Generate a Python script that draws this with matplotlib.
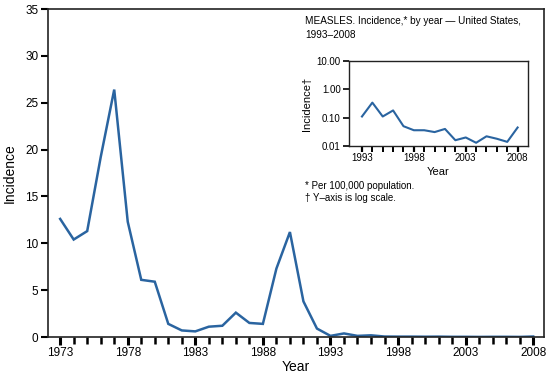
import matplotlib.pyplot as plt
from matplotlib.ticker import FixedLocator, FuncFormatter

plt.rcParams['font.family'] = ['Liberation Sans', 'DejaVu Sans']

# main chart: measles incidence per 100,000, 1973-2008
years = list(range(1973, 2009))
incidence = [12.6, 10.4, 11.3, 19.2, 26.4, 12.3, 6.1, 5.9, 1.4, 0.7, 0.6, 1.1,
             1.2, 2.6, 1.5, 1.4, 7.3, 11.2, 3.8, 0.9, 0.12, 0.38, 0.12, 0.18,
             0.05, 0.04, 0.04, 0.03, 0.04, 0.02, 0.02, 0.01, 0.02, 0.02, 0.01, 0.05]

# inset: same series 1993-2008 on log axis
inset_years = list(range(1993, 2009))
inset_incidence = [0.11, 0.34, 0.11, 0.18, 0.05, 0.036, 0.036, 0.031, 0.04, 0.016,
                   0.02, 0.013, 0.022, 0.018, 0.014, 0.045]

line_color = '#2a64a0'
label_years = [1973, 1978, 1983, 1988, 1993, 1998, 2003, 2008]
inset_label_years = [1993, 1998, 2003, 2008]

fig = plt.figure(figsize=(5.56, 3.75), dpi=100)
ax = fig.add_axes([48 / 556, 38 / 375, 496 / 556, 328 / 375])
ax.plot(years, incidence, color=line_color, lw=1.8, solid_joinstyle='miter')
ax.set_xlim(1972.1, 2008.8)
ax.set_ylim(0, 35)
ax.set_yticks(range(0, 36, 5))
ax.xaxis.set_major_locator(FixedLocator(label_years))
ax.xaxis.set_minor_locator(FixedLocator(years))
ax.tick_params(axis='x', which='major', length=6, width=2.2, labelsize=8.5, pad=1)
ax.tick_params(axis='x', which='minor', length=5, width=1.8)
ax.tick_params(axis='y', length=5, width=1.5, labelsize=8.5, pad=2)
ax.set_xlabel('Year', fontsize=10, labelpad=1)
ax.set_ylabel('Incidence', fontsize=10, labelpad=6)
for s in ax.spines.values():
    s.set_linewidth(1.2)
    s.set_color('#222222')

# inset
fig.text(305 / 556, 1 - 28 / 375, 'MEASLES. Incidence,* by year \u2014 United States,\n1993\u20132008',
         fontsize=7.2, va='center', ha='left', linespacing=1.5)
iax = fig.add_axes([349 / 556, 1 - 146 / 375, 179 / 556, 85 / 375])
iax.plot(inset_years, inset_incidence, color=line_color, lw=1.5)
iax.set_yscale('log')
iax.set_ylim(0.01, 10)
iax.set_xlim(1991.75, 2009)
iax.set_yticks([0.01, 0.1, 1, 10])
iax.yaxis.set_major_formatter(FuncFormatter(lambda v, p: f'{v:.2f}'))
iax.yaxis.set_minor_locator(FixedLocator([]))
iax.xaxis.set_major_locator(FixedLocator(inset_label_years))
iax.xaxis.set_minor_locator(FixedLocator(inset_years))
iax.tick_params(axis='x', which='major', length=4, width=1.6, labelsize=7, pad=1)
iax.tick_params(axis='x', which='minor', length=4, width=1.4)
iax.tick_params(axis='y', length=4, width=1.2, labelsize=7, pad=2)
iax.set_xlabel('Year', fontsize=8, labelpad=3)
iax.set_ylabel('Incidence\u2020', fontsize=8, labelpad=3)
for s in iax.spines.values():
    s.set_linewidth(1.0)
    s.set_color('#222222')

fig.text(305 / 556, 1 - 186 / 375, '* Per 100,000 population.', fontsize=7, va='center')
fig.text(305 / 556, 1 - 198 / 375, '\u2020 Y\u2013axis is log scale.', fontsize=7, va='center')

fig.savefig('out.png', dpi=100)
